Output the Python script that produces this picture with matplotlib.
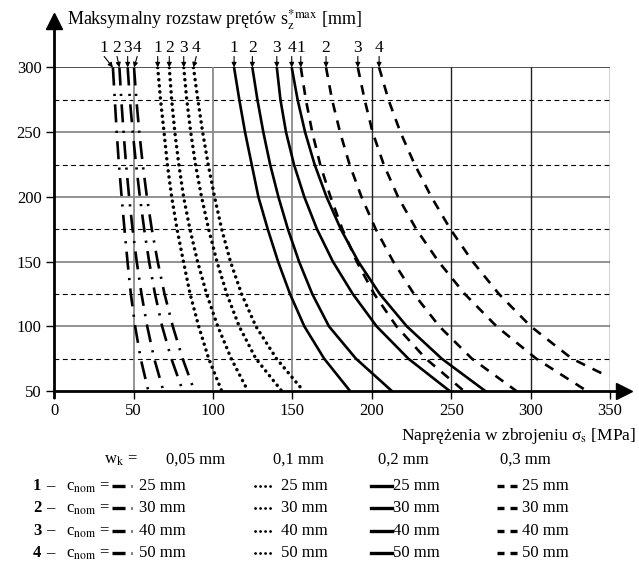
import matplotlib
matplotlib.use("Agg")
import matplotlib.pyplot as plt

plt.rcParams['font.family'] = ['Liberation Serif', 'DejaVu Serif']
plt.rcParams['mathtext.fontset'] = 'stix'
plt.rcParams['lines.scale_dashes'] = False

# spacing levels s_z*max [mm] at which the curves were read
S_LEVELS = [300, 275, 250, 225, 200, 175, 150, 125, 100, 75, 50]
S_LEVELS_LAST = [300, 275, 250, 225, 200, 175, 150, 125, 100, 75, 63]   # 0,3 mm / 50 mm curve ends early

COVERS = ['25 mm', '30 mm', '40 mm', '50 mm']
CRACK_WIDTHS = ['0,05 mm', '0,1 mm', '0,2 mm', '0,3 mm']

# steel stress sigma_s [MPa], one list per c_nom
WK005 = [
    [37.0, 38.2, 39.4, 40.8, 42.5, 44.3, 46.2, 48.3, 51.0, 54.5, 59.3],
    [41.1, 42.3, 43.7, 45.3, 47.2, 49.4, 52.0, 55.0, 58.6, 63.0, 68.8],
    [46.3, 47.7, 49.5, 51.6, 54.0, 56.7, 59.8, 63.5, 68.0, 73.8, 81.0],
    [50.3, 51.8, 53.6, 55.8, 58.4, 61.5, 65.2, 69.5, 74.7, 80.9, 88.3],
]
WK01 = [
    [65.2, 67.0, 69.2, 71.3, 74.0, 77.4, 81.4, 85.6, 91.0, 97.3, 105.5],
    [72.5, 74.0, 76.0, 78.5, 81.5, 85.5, 90.3, 96.0, 103.0, 111.5, 122.0],
    [81.6, 83.5, 86.0, 89.0, 92.8, 97.3, 102.5, 108.7, 116.5, 127.0, 143.3],
    [87.7, 90.5, 93.5, 97.0, 101.0, 105.5, 111.0, 118.0, 127.0, 140.0, 157.0],
]
WK02 = [
    [113.3, 116.6, 120.2, 124.4, 128.6, 134.5, 141.0, 148.5, 157.5, 170.0, 186.3],
    [124.8, 128.0, 131.7, 136.0, 141.2, 147.2, 154.2, 162.5, 173.0, 190.0, 212.6],
    [140.2, 142.5, 146.0, 151.0, 157.5, 165.5, 175.5, 188.0, 203.0, 223.0, 249.0],
    [149.6, 153.3, 158.0, 164.0, 171.5, 180.5, 191.5, 205.0, 222.0, 244.0, 271.4],
]
WK03 = [
    [155.3, 158.5, 162.5, 167.5, 174.0, 181.5, 190.5, 201.5, 215.5, 234.0, 258.0],
    [171.2, 175.0, 180.0, 186.0, 193.5, 202.5, 213.5, 226.5, 242.5, 263.0, 291.0],
    [191.2, 195.5, 200.5, 207.5, 216.5, 228.0, 242.0, 258.5, 278.5, 303.5, 335.4],
    [204.6, 210.5, 218.0, 227.0, 237.5, 249.5, 263.5, 280.0, 300.0, 326.0, 345.8],
]
GROUPS = [WK005, WK01, WK02, WK03]

STYLES = [
    dict(lw=1.9, dashes=(13, 6, 1.6, 6)),
    dict(lw=2.5, dashes=(0.1, 4.3), dash_capstyle='round'),
    dict(lw=1.9, linestyle='-'),
    dict(lw=1.9, dashes=(7, 6)),
]
# nudges of the "1 2 3 4" labels where arrows are crowded
LABEL_SHIFT = {(0, 0): -5.5, (0, 1): -1.5, (0, 3): 2.0, (1, 3): 1.8}

fig = plt.figure(figsize=(6.39, 5.65), dpi=100)
ax = fig.add_axes([0.0847, 0.308, 0.870, 0.5726])
ax.set_xlim(0, 350)
ax.set_ylim(50, 300)
for sp in ax.spines.values():
    sp.set_visible(False)

# grid
for y in [100, 150, 200, 250]:
    ax.axhline(y, color='#8a8a8a', lw=1.3, zorder=1)
for y in [75, 125, 175, 225, 275]:
    ax.axhline(y, color='k', lw=0.8, dashes=(3.5, 2.5), zorder=1)
ax.axhline(300, color='#222222', lw=1.1, zorder=1)
for x in [50, 100, 150]:
    ax.axvline(x, color='#8a8a8a', lw=1.3, zorder=1)
for x in [200, 250, 300, 350]:
    ax.axvline(x, color='#222222', lw=1.0, zorder=1)

# axes with arrows
ax.plot([0, 0], [45, 334], color='k', lw=2.0, clip_on=False, zorder=5)
ax.plot(0, 336, marker='^', ms=11, color='k', clip_on=False, zorder=5)
ax.plot([0, 357], [50, 50], color='k', lw=2.0, clip_on=False, zorder=5)
ax.plot(359, 50, marker='>', ms=11, color='k', clip_on=False, zorder=5)

ax.set_xticks(range(0, 351, 50))
ax.set_yticks(range(50, 301, 50))
ax.tick_params(direction='out', length=6, width=1.0, labelsize=12, pad=3)

# curves and labels
for g, (group, style) in enumerate(zip(GROUPS, STYLES)):
    for i, sigma in enumerate(group):
        s = S_LEVELS_LAST if (g == 3 and i == 3) else S_LEVELS
        ax.plot(sigma, s, color='k', zorder=3, **style)
        tx = sigma[0] + LABEL_SHIFT.get((g, i), 0.0)
        ax.annotate('', xy=(sigma[0], 300), xytext=(tx, 308.5),
                    arrowprops=dict(arrowstyle='-|>', color='k', lw=0.8,
                                    mutation_scale=7, shrinkA=0, shrinkB=0),
                    annotation_clip=False)
        ax.text(tx, 308.5, str(i + 1), ha='center', va='bottom', fontsize=12.5,
                clip_on=False)

fig.text(67 / 639, 1 - 20 / 565, 'Maksymalny rozstaw prętów s$_\\mathrm{z}^\\mathrm{*max}$ [mm]',
         ha='left', va='center', fontsize=13)
fig.text(636 / 639, 1 - 436 / 565, 'Naprężenia w zbrojeniu σ$_\\mathrm{s}$ [MPa]',
         ha='right', va='center', fontsize=12.5)

# legend drawn in pixel coordinates
lax = fig.add_axes([0, 0, 1, 1])
lax.set_xlim(0, 639)
lax.set_ylim(565, 0)
lax.axis('off')

fs = 12
lax.text(104, 460, 'w$_\\mathrm{k}$ =', ha='left', va='center', fontsize=fs)
for x, lab in zip([166, 273, 378, 500], CRACK_WIDTHS):
    lax.text(x, 460, lab, ha='left', va='center', fontsize=fs)

for r, cov in enumerate(COVERS):
    y = 486 + r * 22.3
    lax.text(33, y, str(r + 1), ha='left', va='center', fontsize=fs, fontweight='bold')
    lax.text(46, y, '–', ha='left', va='center', fontsize=fs)
    lax.text(66, y + 1, 'c$_\\mathrm{nom}$ =', ha='left', va='center', fontsize=fs)
    # dash-dot sample
    lax.plot([112, 125], [y, y], color='k', lw=2.4, solid_capstyle='butt')
    lax.plot([130.5, 132], [y, y], color='k', lw=2.0, solid_capstyle='butt')
    lax.text(139, y, cov, ha='left', va='center', fontsize=fs)
    # dotted sample
    lax.plot([255, 275], [y, y], color='k', lw=2.0, dashes=(0.1, 3.5),
             dash_capstyle='round')
    lax.text(281, y, cov, ha='left', va='center', fontsize=fs)
    # solid sample
    lax.plot([371, 392], [y, y], color='k', lw=2.4)
    lax.text(393, y, cov, ha='left', va='center', fontsize=fs)
    # dashed sample
    lax.plot([497, 504], [y, y], color='k', lw=2.4, solid_capstyle='butt')
    lax.plot([510, 517], [y, y], color='k', lw=2.4, solid_capstyle='butt')
    lax.text(522, y, cov, ha='left', va='center', fontsize=fs)

fig.savefig('out.png', dpi=100)
